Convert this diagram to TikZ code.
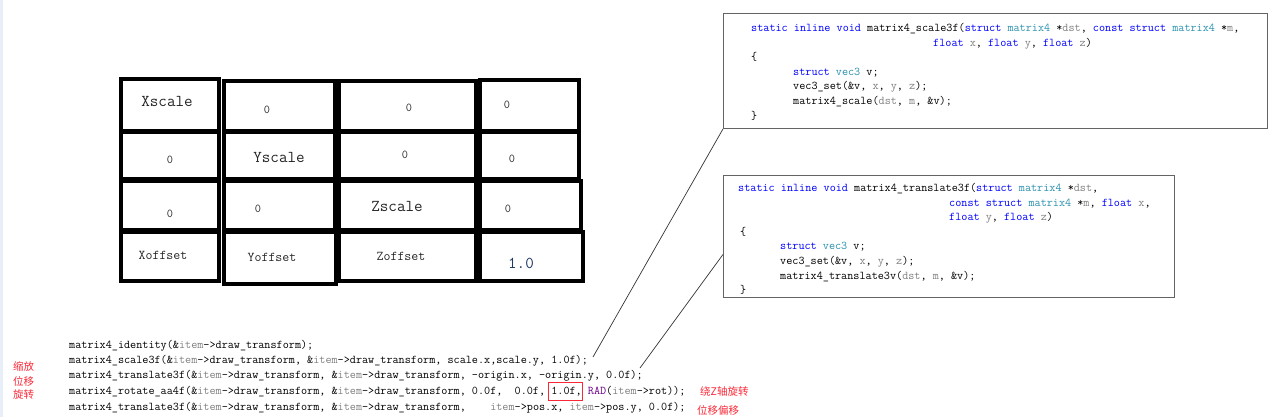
\documentclass[tikz,border=0pt]{standalone}
\usepackage{fontspec}
\newfontfamily\codefont{Latin Modern Mono}
\newfontfamily\cjkfont{Noto Sans CJK SC}
\definecolor{kwc}{RGB}{0,0,255}
\definecolor{tyc}{RGB}{43,145,175}
\definecolor{pmc}{RGB}{128,128,128}
\definecolor{macc}{RGB}{111,0,138}
\definecolor{cjkred}{RGB}{250,40,55}
\definecolor{edgeband}{RGB}{232,238,247}
\definecolor{onec}{RGB}{31,56,100}
\definecolor{boxc}{RGB}{100,100,100}
\newcommand\codeKW[1]{\textcolor{kwc}{#1}}
\newcommand\codeTY[1]{\textcolor{tyc}{#1}}
\newcommand\codePM[1]{\textcolor{pmc}{#1}}
\newcommand\codeIT{\textcolor{pmc}{item}}
\tikzset{
  code/.style={font=\codefont\fontsize{11.85}{13}\selectfont, anchor=base west, inner sep=0pt},
  cell/.style={line width=4pt, draw=black},
  big/.style={font=\codefont\fontsize{16.6}{18}\selectfont, inner sep=0pt, text=black!85},
  mid/.style={font=\codefont\fontsize{13.5}{15}\selectfont, inner sep=0pt, text=black!85},
  zero/.style={font=\codefont\fontsize{12}{14}\selectfont, inner sep=0pt, text=black!85},
  cjk/.style={font=\cjkfont\fontsize{10.5}{13}\selectfont, text=cjkred, inner sep=0pt, anchor=west},
  codebox/.style={draw=boxc, line width=0.9pt, anchor=north west, inner sep=0pt},
  conn/.style={draw=black!80, line width=0.7pt}
}
\begin{document}
\begin{tikzpicture}[x=1pt,y=-1pt]
\useasboundingbox (0,0) rectangle (1274,417);
\fill[edgeband] (0,0) rectangle (3,417);

% ---------- table cells ----------
\draw[cell] (121,79) rectangle (219,131);
\draw[cell] (224,81) rectangle (335,131);
\draw[cell] (339,81) rectangle (476,131);
\draw[cell] (480,80) rectangle (579,131);
\draw[cell] (121,132) rectangle (219,179);
\draw[cell] (224,132) rectangle (335,179);
\draw[cell] (339,132) rectangle (476,179);
\draw[cell] (480,132) rectangle (579,179);
\draw[cell] (121,181) rectangle (219,230);
\draw[cell] (224,181) rectangle (335,230);
\draw[cell] (339,181) rectangle (476,230);
\draw[cell] (480,181) rectangle (581,230);
\draw[cell] (121,232) rectangle (219,281);
\draw[cell] (224,232) rectangle (336,284);
\draw[cell] (339,232) rectangle (476,281);
\draw[cell] (480,232) rectangle (583,281);

% ---------- table texts ----------
\node[big] (xs) at (167,101) {Xscale};
\node[zero] (z12) at (267,110) {0};
\node[zero] (z13) at (409,108) {0};
\node[zero] (z14) at (507,105) {0};
\node[zero] (z21) at (170,160) {0};
\node[big] (ys) at (279,157) {Yscale};
\node[zero] (z23) at (405,155) {0};
\node[zero] (z24) at (512,159) {0};
\node[zero] (z31) at (170,214) {0};
\node[zero] (z32) at (258,209) {0};
\node[big] (zs) at (397,206) {Zscale};
\node[zero] (z34) at (508,209) {0};
\node[mid] (xo) at (163,255) {Xoffset};
\node[mid] (yo) at (272,257) {Yoffset};
\node[mid] (zo) at (401,256) {Zoffset};
\node[big, text=onec] (one) at (521,263) {1.0};

% ---------- code box 1 ----------
\node[codebox, minimum width=544pt, minimum height=115pt] (box1) at (723,13) {};
\node[code] (b1l1) at (751,31.5) {\codeKW{static inline void} matrix4\_scale3f(\codeKW{struct} \codeTY{matrix4} *\codePM{dst}, \codeKW{const struct} \codeTY{matrix4} *\codePM{m},};
\node[code] (b1l2) at (933,46.1) {\codeKW{float} \codePM{x}, \codeKW{float} \codePM{y}, \codeKW{float} \codePM{z})};
\node[code] (b1l3) at (751,60.7) {\{};
\node[code] (b1l4) at (793,75.3) {\codeKW{struct} \codeTY{vec3} v;};
\node[code] (b1l5) at (793,89.9) {vec3\_set(\&v, \codePM{x}, \codePM{y}, \codePM{z});};
\node[code] (b1l6) at (793,104.5) {matrix4\_scale(\codePM{dst}, \codePM{m}, \&v);};
\node[code] (b1l7) at (751,119.1) {\}};

% ---------- code box 2 ----------
\node[codebox, minimum width=451pt, minimum height=122pt] (box2) at (723,175) {};
\node[code] (b2l1) at (738,191.5) {\codeKW{static inline void} matrix4\_translate3f(\codeKW{struct} \codeTY{matrix4} *\codePM{dst},};
\node[code] (b2l2) at (949,206.1) {\codeKW{const struct} \codeTY{matrix4} *\codePM{m}, \codeKW{float} \codePM{x},};
\node[code] (b2l3) at (949,220.7) {\codeKW{float} \codePM{y}, \codeKW{float} \codePM{z})};
\node[code] (b2l4) at (740,235.3) {\{};
\node[code] (b2l5) at (780,249.9) {\codeKW{struct} \codeTY{vec3} v;};
\node[code] (b2l6) at (780,264.5) {vec3\_set(\&v, \codePM{x}, \codePM{y}, \codePM{z});};
\node[code] (b2l7) at (780,279.1) {matrix4\_translate3v(\codePM{dst}, \codePM{m}, \&v);};
\node[code] (b2l8) at (740,293.7) {\}};

% ---------- bottom code ----------
\node[code] (c1) at (69,348.5) {matrix4\_identity(\&\codeIT->draw\_transform);};
\node[code] (c2) at (69,363.5) {matrix4\_scale3f(\&\codeIT->draw\_transform, \&\codeIT->draw\_transform, scale.x,scale.y, 1.0f);};
\node[code] (c3) at (69,378.5) {matrix4\_translate3f(\&\codeIT->draw\_transform, \&\codeIT->draw\_transform, -origin.x, -origin.y, 0.0f);};
\node[code] (c4) at (69,394.5) {matrix4\_rotate\_aa4f(\&\codeIT->draw\_transform, \&\codeIT->draw\_transform, 0.0f,~ 0.0f, 1.0f, \textcolor{macc}{RAD}(\codeIT->rot));};
\node[code] (c5) at (69,410) {matrix4\_translate3f(\&\codeIT->draw\_transform, \&\codeIT->draw\_transform,~~~ \codeIT->pos.x, \codeIT->pos.y, 0.0f);};
\node[draw=cjkred, line width=0.8pt, minimum width=34pt, minimum height=18pt, inner sep=0pt] (redbox) at (565.5,391) {};

% ---------- Chinese labels ----------
\node[cjk] (lz1) at (13,367) {缩放};
\node[cjk] (lz2) at (13,381) {位移};
\node[cjk] (lz3) at (13,395) {旋转};
\node[cjk] (rz1) at (700,392) {绕Z轴旋转};
\node[cjk] (rz2) at (697,410) {位移偏移};

% ---------- connectors ----------
\coordinate (e1) at (593,357);
\coordinate (e2) at (640,368);
\draw[conn] (box1.south west) -- (e1);
\draw[conn] ([yshift=-18pt]box2.west) -- (e2);
\end{tikzpicture}
\end{document}
